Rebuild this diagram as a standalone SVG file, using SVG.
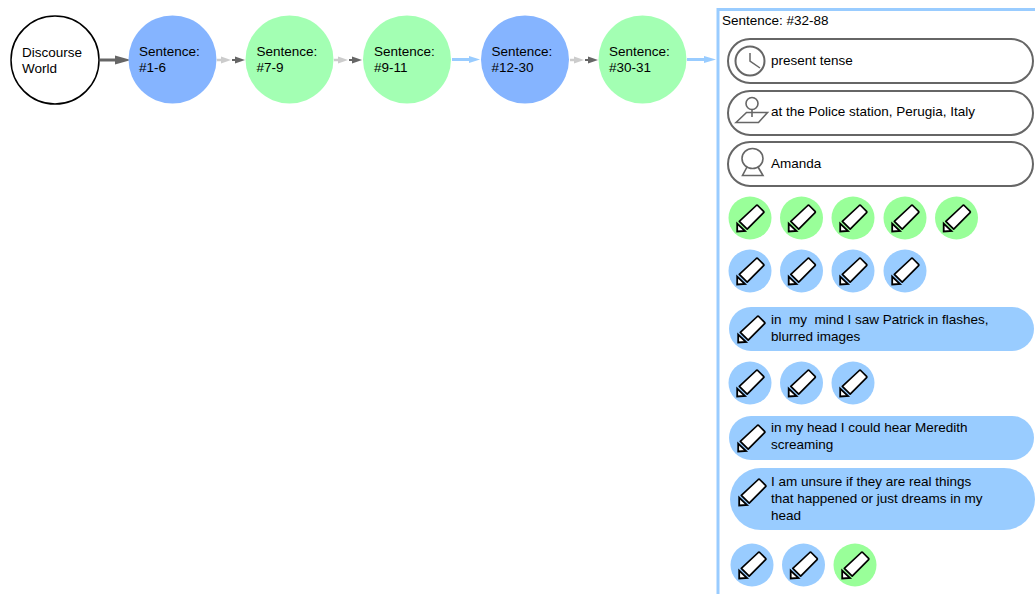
<svg xmlns="http://www.w3.org/2000/svg" xmlns:xlink="http://www.w3.org/1999/xlink" width="1035" height="594" viewBox="0 0 1035 594">
<style>
text{font-family:"Liberation Sans",Arial,sans-serif;font-size:13.5px;fill:#000}
.blue{fill:#85b4ff}.green{fill:#a3ffb3}
.lb{fill:#99ccff}.lg{fill:#99ff99}
.pill{fill:#fff;stroke:#666;stroke-width:2}
.ico{fill:none;stroke:#666;stroke-width:1.6}
</style>
<defs>
<g id="pencil">
<path d="M-10.700 3.300L6.300 -12.500Q7 -13.100 7.700 -12.500L13.600 -6.700Q14.200 -6 13.600 -5.300L-2.800 11.200Z" fill="#fff" stroke="#000" stroke-width="1.700" stroke-linejoin="round"/>
<path d="M-12.800 5.500L-12.800 13.500L-5 13Z" fill="#fff" stroke="#000" stroke-width="1.800" stroke-linejoin="miter"/>
</g>
</defs>
<g id="connectors">
<path d="M100 60H118" stroke="#666" stroke-width="3" fill="none"/><path d="M115 55.500L131 60L115 64.500Z" fill="#666"/>
<path d="M217 60H225" stroke="#ccc" stroke-width="2.500"/><path d="M221 56.500L231 60L221 63.500Z" fill="#ccc"/>
<path d="M232 60H238" stroke="#666" stroke-width="2"/><path d="M235 56.500L245 60L235 63.500Z" fill="#666"/>
<path d="M334 60H342" stroke="#ccc" stroke-width="2.500"/><path d="M338 56.500L348 60L338 63.500Z" fill="#ccc"/>
<path d="M349 60H355" stroke="#666" stroke-width="2"/><path d="M352 56.500L362 60L352 63.500Z" fill="#666"/>
<path d="M452 59.500H472" stroke="#99ccff" stroke-width="3"/><path d="M469 56L480 59.500L469 63Z" fill="#99ccff"/>
<path d="M570 60H578" stroke="#ccc" stroke-width="2.500"/><path d="M574 56.500L584 60L574 63.500Z" fill="#ccc"/>
<path d="M585 60H591" stroke="#666" stroke-width="2"/><path d="M588 56.500L598 60L588 63.500Z" fill="#666"/>
<path d="M687 59.500H707" stroke="#99ccff" stroke-width="3"/><path d="M704 56L716 59.500L704 63Z" fill="#99ccff"/>
</g>
<g id="world"><circle cx="55" cy="60" r="44" fill="#fff" stroke="#000" stroke-width="1.500"/><text x="22" y="57">Discourse</text><text x="22" y="73">World</text></g>
<g id="s1"><circle cx="172.500" cy="59.500" r="44" class="blue"/><text x="139" y="56">Sentence:</text><text x="139" y="72">#1-6</text></g>
<g id="s2"><circle cx="289.500" cy="59.500" r="44" class="green"/><text x="256.500" y="56">Sentence:</text><text x="256.500" y="72">#7-9</text></g>
<g id="s3"><circle cx="407" cy="59.500" r="44" class="green"/><text x="374" y="56">Sentence:</text><text x="374" y="72">#9-11</text></g>
<g id="s4"><circle cx="525" cy="59.500" r="44" class="blue"/><text x="491.500" y="56">Sentence:</text><text x="491.500" y="72">#12-30</text></g>
<g id="s5"><circle cx="642.500" cy="59.500" r="44" class="green"/><text x="609" y="56">Sentence:</text><text x="609" y="72">#30-31</text></g>
<g id="panel">
<path d="M718 596V9.500H1037" fill="#fff" stroke="#99ccff" stroke-width="3"/>
<text x="722" y="25">Sentence: #32-88</text>
</g>
<g id="tense"><rect x="728" y="39" width="305" height="44" rx="22" class="pill"/>
<circle cx="750" cy="61" r="14.500" class="ico" style="stroke-width:2"/><path d="M750 53V61L760 68" class="ico" style="stroke-width:1.500"/>
<text x="771" y="65">present tense</text></g>
<g id="place"><rect x="728" y="91" width="305" height="44" rx="22" class="pill"/>
<circle cx="752" cy="103.500" r="6" class="ico"/><path d="M752 109.500V117M736 122.500L746.500 112.500H767.500L758.500 122.500Z" class="ico"/>
<text x="771" y="116">at the Police station, Perugia, Italy</text></g>
<g id="person"><rect x="728" y="142" width="305" height="44" rx="22" class="pill"/>
<ellipse cx="752.500" cy="158.500" rx="10.500" ry="10" class="ico"/><path d="M747 167L742.500 175.500H763L758 167" class="ico"/>
<text x="771" y="168">Amanda</text></g>
<g id="r1">
<circle cx="750" cy="218" r="21.500" class="lg"/><use xlink:href="#pencil" href="#pencil" x="750" y="218"/>
<circle cx="801.500" cy="218" r="21.500" class="lg"/><use xlink:href="#pencil" href="#pencil" x="801.500" y="218"/>
<circle cx="853" cy="218" r="21.500" class="lg"/><use xlink:href="#pencil" href="#pencil" x="853" y="218"/>
<circle cx="905" cy="218" r="21.500" class="lg"/><use xlink:href="#pencil" href="#pencil" x="905" y="218"/>
<circle cx="956.500" cy="218" r="21.500" class="lg"/><use xlink:href="#pencil" href="#pencil" x="956.500" y="218"/>
</g>
<g id="r2">
<circle cx="750" cy="271" r="21.500" class="lb"/><use xlink:href="#pencil" href="#pencil" x="750" y="271"/>
<circle cx="801.500" cy="271" r="21.500" class="lb"/><use xlink:href="#pencil" href="#pencil" x="801.500" y="271"/>
<circle cx="853" cy="271" r="21.500" class="lb"/><use xlink:href="#pencil" href="#pencil" x="853" y="271"/>
<circle cx="905" cy="271" r="21.500" class="lb"/><use xlink:href="#pencil" href="#pencil" x="905" y="271"/>
</g>
<g id="q1"><rect x="729" y="307" width="305" height="44" rx="22" class="lb"/><use xlink:href="#pencil" href="#pencil" x="751" y="329"/>
<text x="771" y="324" xml:space="preserve">in  my  mind I saw Patrick in flashes,</text><text x="771" y="341">blurred images</text></g>
<g id="r3">
<circle cx="750" cy="383" r="21.500" class="lb"/><use xlink:href="#pencil" href="#pencil" x="750" y="383"/>
<circle cx="801.500" cy="383" r="21.500" class="lb"/><use xlink:href="#pencil" href="#pencil" x="801.500" y="383"/>
<circle cx="853" cy="383" r="21.500" class="lb"/><use xlink:href="#pencil" href="#pencil" x="853" y="383"/>
</g>
<g id="q2"><rect x="729" y="416" width="305" height="44" rx="22" class="lb"/><use xlink:href="#pencil" href="#pencil" x="751" y="438"/>
<text x="771" y="432">in my head I could hear Meredith</text><text x="771" y="449">screaming</text></g>
<g id="q3"><rect x="730" y="468" width="305" height="62" rx="31" class="lb"/><use xlink:href="#pencil" href="#pencil" x="752" y="492"/>
<text x="771" y="486">I am unsure if they are real things</text><text x="771" y="503">that happened or just dreams in my</text><text x="771" y="520">head</text></g>
<g id="r4">
<circle cx="752" cy="565" r="21.500" class="lb"/><use xlink:href="#pencil" href="#pencil" x="752" y="565"/>
<circle cx="803.500" cy="565" r="21.500" class="lb"/><use xlink:href="#pencil" href="#pencil" x="803.500" y="565"/>
<circle cx="855" cy="565" r="21.500" class="lg"/><use xlink:href="#pencil" href="#pencil" x="855" y="565"/>
</g>
</svg>
